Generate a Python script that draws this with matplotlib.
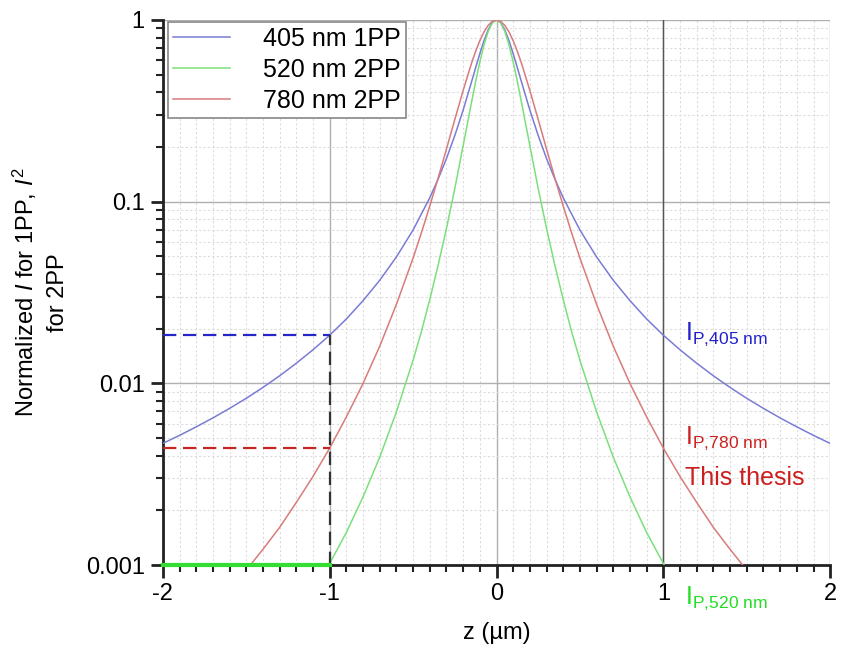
import numpy as np
import matplotlib
matplotlib.use("Agg")
import matplotlib.pyplot as plt
from matplotlib.ticker import LogLocator, MultipleLocator, FixedFormatter, FixedLocator

plt.rcParams['font.family'] = ['Liberation Sans', 'DejaVu Sans']
plt.rcParams['mathtext.fontset'] = 'custom'
plt.rcParams['mathtext.rm'] = 'Liberation Sans'
plt.rcParams['mathtext.it'] = 'Liberation Sans:italic'
plt.rcParams['axes.unicode_minus'] = False

# half profiles (z >= 0); curves are symmetric in z
z_405 = [0, 0.025, 0.05, 0.075, 0.1, 0.125, 0.15, 0.2, 0.25, 0.3, 0.35, 0.4, 0.5, 0.6, 0.7,
         0.8, 0.9, 1.0, 1.1, 1.2, 1.3, 1.4, 1.5, 1.6, 1.7, 1.8, 1.9, 2.0]
i_405 = [1, 0.968, 0.882, 0.769, 0.652, 0.546, 0.455, 0.319, 0.231, 0.1726, 0.133, 0.105,
         0.0698, 0.0496, 0.0369, 0.0285, 0.0226, 0.0184, 0.0153, 0.0129, 0.0110, 0.00949,
         0.00827, 0.00728, 0.00645, 0.00576, 0.00517, 0.00467]

z_520 = [0, 0.025, 0.05, 0.075, 0.1, 0.125, 0.15, 0.2, 0.25, 0.3, 0.35, 0.4, 0.45, 0.5, 0.6,
         0.7, 0.8, 0.9, 1.0, 1.1]
i_520 = [1, 0.963, 0.863, 0.729, 0.587, 0.458, 0.351, 0.203, 0.118, 0.0712, 0.0446, 0.0289,
         0.0193, 0.0134, 0.00696, 0.00392, 0.00237, 0.00151, 0.00102, 0.000694]

z_780 = [0, 0.025, 0.05, 0.075, 0.1, 0.125, 0.15, 0.2, 0.25, 0.3, 0.35, 0.4, 0.45, 0.5, 0.6,
         0.7, 0.8, 0.9, 1.0, 1.1, 1.2, 1.3, 1.4, 1.5, 1.6]
i_780 = [1, 0.983, 0.933, 0.859, 0.768, 0.672, 0.577, 0.409, 0.283, 0.1946, 0.1347, 0.0945,
         0.0674, 0.0489, 0.0272, 0.0160, 0.00998, 0.00653, 0.00440, 0.00307, 0.00221,
         0.00161, 0.00122, 0.000937, 0.00073]

labels = ['405 nm 1PP', '520 nm 2PP', '780 nm 2PP']
line_colors = ['#7b7bd6', '#7be07b', '#d87b7b']

# values at z = -1 um marked by dashed lines
z_mark = -1.0
mark_405 = 0.0185
mark_780 = 0.0044
mark_520 = 0.001


def mirror(z, v):
    z = np.asarray(z, float)
    v = np.asarray(v, float)
    return np.concatenate([-z[:0:-1], z]), np.concatenate([v[:0:-1], v])


fig = plt.figure(figsize=(8.48, 6.52), dpi=100)
ax = fig.add_axes([0.192, 0.1334, 0.787, 0.836])

for z, v, lab, c in zip([z_405, z_520, z_780], [i_405, i_520, i_780], labels, line_colors):
    zz, vv = mirror(z, v)
    ax.plot(zz, vv, color=c, lw=1.1, label=lab, zorder=3)

ax.set_yscale('log')
ax.set_xlim(-2, 2)
ax.set_ylim(0.001, 1)

# dashed guides
ax.plot([-2, z_mark], [mark_405, mark_405], color='#2525c8', lw=1.6, ls=(0, (6, 3)), zorder=4)
ax.plot([-2, z_mark], [mark_780, mark_780], color='#c82525', lw=1.6, ls=(0, (6, 3)), zorder=4)
ax.plot([z_mark, z_mark], [mark_520, mark_405], color='#333333', lw=1.6, ls=(0, (6, 3)), zorder=4)
ax.plot([-2, z_mark], [mark_520, mark_520], color='#33dd33', lw=3, zorder=6, clip_on=False)

ax.xaxis.set_major_locator(MultipleLocator(1))
ax.xaxis.set_minor_locator(MultipleLocator(0.1))
ax.yaxis.set_major_locator(FixedLocator([0.001, 0.01, 0.1, 1]))
ax.yaxis.set_major_formatter(FixedFormatter(['0.001', '0.01', '0.1', '1']))
ax.yaxis.set_minor_locator(LogLocator(base=10, subs=np.arange(2, 10)))
ax.yaxis.set_minor_formatter(plt.NullFormatter())

ax.grid(True, which='major', color='#b0b0b0', lw=1.0, zorder=0)
ax.grid(True, which='minor', color='#dcdcdc', lw=0.8, ls=(0, (2, 2)), zorder=0)
ax.axvline(1, color='#555555', lw=1.0, zorder=1)
ax.set_axisbelow(True)

for s in ['top', 'right']:
    ax.spines[s].set_visible(False)
for s in ['left', 'bottom']:
    ax.spines[s].set_linewidth(2)
    ax.spines[s].set_color('#222222')

ax.tick_params(which='major', direction='out', length=9, width=2, labelsize=17, pad=4, color='#222222')
ax.tick_params(which='minor', direction='out', length=5, width=1.5, color='#222222')

ax.set_xlabel('z (µm)', fontsize=17, labelpad=12)
ax.set_ylabel('Normalized $\\mathit{I}$ for 1PP, $\\mathit{I}^2$\nfor 2PP', fontsize=17, labelpad=12,
              linespacing=1.5)

leg = ax.legend(loc='upper left', bbox_to_anchor=(0.0, 1.005), fontsize=18, frameon=True,
                fancybox=False, edgecolor='#888888', framealpha=1, handlelength=2.3,
                handletextpad=1.3, borderpad=0.2, labelspacing=0.28, borderaxespad=0.2)
leg.get_frame().set_linewidth(1.2)

ax.text(1.13, 0.0185, r'I$_{\mathrm{P{,}405\ nm}}$', color='#2020cc', fontsize=18, va='center')
ax.text(1.13, 0.0050, r'I$_{\mathrm{P{,}780\ nm}}$', color='#cc1f1f', fontsize=18, va='center')
ax.text(1.13, 0.0030, 'This thesis', color='#cc1f1f', fontsize=18, va='center')
ax.text(1.13, 0.00066, r'I$_{\mathrm{P{,}520\ nm}}$', color='#22dd22', fontsize=18, va='center')

fig.savefig('out.png', dpi=100)
